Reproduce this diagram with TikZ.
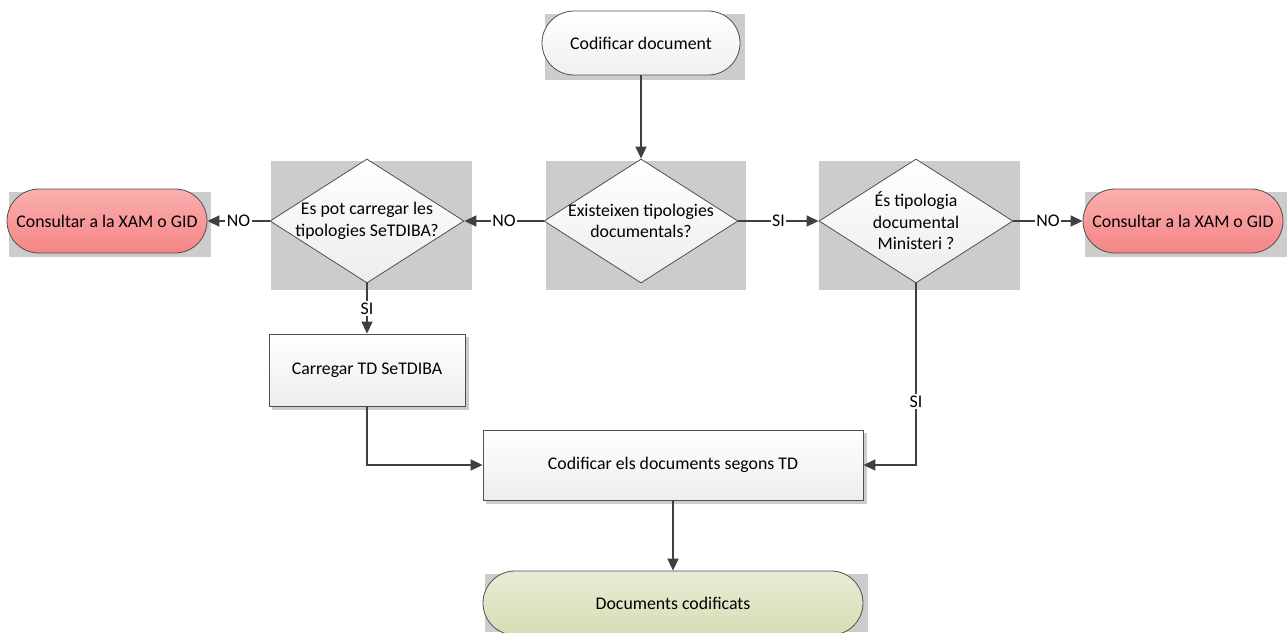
\documentclass[tikz,border=0pt]{standalone}
\usepackage{fontspec}
\setmainfont{Carlito}
\usetikzlibrary{shapes.geometric,arrows.meta}
\definecolor{ln}{HTML}{404040}
\definecolor{edgec}{HTML}{505050}
\definecolor{shad}{HTML}{CCCCCC}
\definecolor{redtop}{HTML}{FBAEAE}
\definecolor{redbot}{HTML}{F58585}
\definecolor{greentop}{HTML}{E8EDD6}
\definecolor{greenbot}{HTML}{D4DEB4}
\begin{document}
\begin{tikzpicture}[x=1pt,y=-1pt,
  font=\fontsize{17.8}{21.5}\selectfont,
  term/.style={rectangle, rounded corners=32pt, minimum width=198pt, minimum height=64pt,
    draw=edgec, line width=0.8pt, inner sep=0pt},
  whiteterm/.style={term, top color=white, bottom color=black!6},
  redterm/.style={term, minimum width=200pt, top color=redtop, bottom color=redbot},
  greenterm/.style={term, minimum width=380pt, top color=greentop, bottom color=greenbot},
  dia/.style={diamond, minimum width=194pt, minimum height=124pt, inner sep=0pt,
    draw=edgec, line width=0.8pt, top color=white, bottom color=black!7},
  boxn/.style={rectangle, draw=edgec, line width=0.8pt, inner sep=0pt,
    top color=white, bottom color=black!7},
  shadow/.style={fill=shad, draw=none},
  conn/.style={draw=ln, line width=1.5pt, -{Triangle[length=12pt,width=11pt]}},
  lab/.style={fill=white, inner sep=1.5pt, text=black}
]
\useasboundingbox (0,0) rectangle (1287,632);
\fill[white] (0,0) rectangle (1287,632);

% grey background boxes
\fill[shadow] (545,14) rectangle (745,80);
\fill[shadow] (271,161) rectangle (472,290);
\fill[shadow] (546,161) rectangle (746,290);
\fill[shadow] (819,161) rectangle (1020,290);
\fill[shadow] (9,192) rectangle (211,257);
\fill[shadow] (1085,192) rectangle (1287,257);
\fill[shadow] (272,337) rectangle (469,410);
\fill[shadow] (486,433) rectangle (867,504);
\fill[shadow] (485,574) rectangle (868,632);

% nodes
\node[whiteterm] (start) at (641,43) {Codificar document};
\node[dia] (d1) at (641,221) {};
\node[align=center] (t1) at (641,221) {Existeixen tipologies\\documentals?};
\node[dia] (d2) at (367,221) {};
\node[align=center] (t2) at (367,221) {Es pot carregar les\\tipologies SeTDIBA?};
\node[dia] (d3) at (916,221) {};
\node[align=center] (t3) at (916,221) {És tipologia\\documental\\Ministeri ?};
\node[redterm] (r1) at (107,221) {Consultar a la XAM o GID};
\node[redterm] (r2) at (1183,221) {Consultar a la XAM o GID};
\node[boxn, minimum width=196pt, minimum height=72pt] (b1) at (367,370) {Carregar TD SeTDIBA};
\node[boxn, minimum width=380pt, minimum height=70pt] (b2) at (673,465) {Codificar els documents segons TD};
\node[greenterm] (end) at (673,603) {Documents codificats};

% connectors
\draw[conn] (start.south) -- (d1.north);
\draw[conn] (d1.west) -- node[lab]{NO} (d2.east);
\draw[conn] (d1.east) -- node[lab]{SI} (d3.west);
\draw[conn] (d2.west) -- node[lab]{NO} (r1.east);
\draw[conn] (d3.east) -- node[lab]{NO} (r2.west);
\draw[conn] (d2.south) -- node[lab]{SI} (b1.north);
\draw[conn] (d3.south) |- node[lab, pos=0.325]{SI} (b2.east);
\draw[conn] (b1.south) |- (b2.west);
\draw[conn] (b2.south) -- (end.north);
\end{tikzpicture}
\end{document}
